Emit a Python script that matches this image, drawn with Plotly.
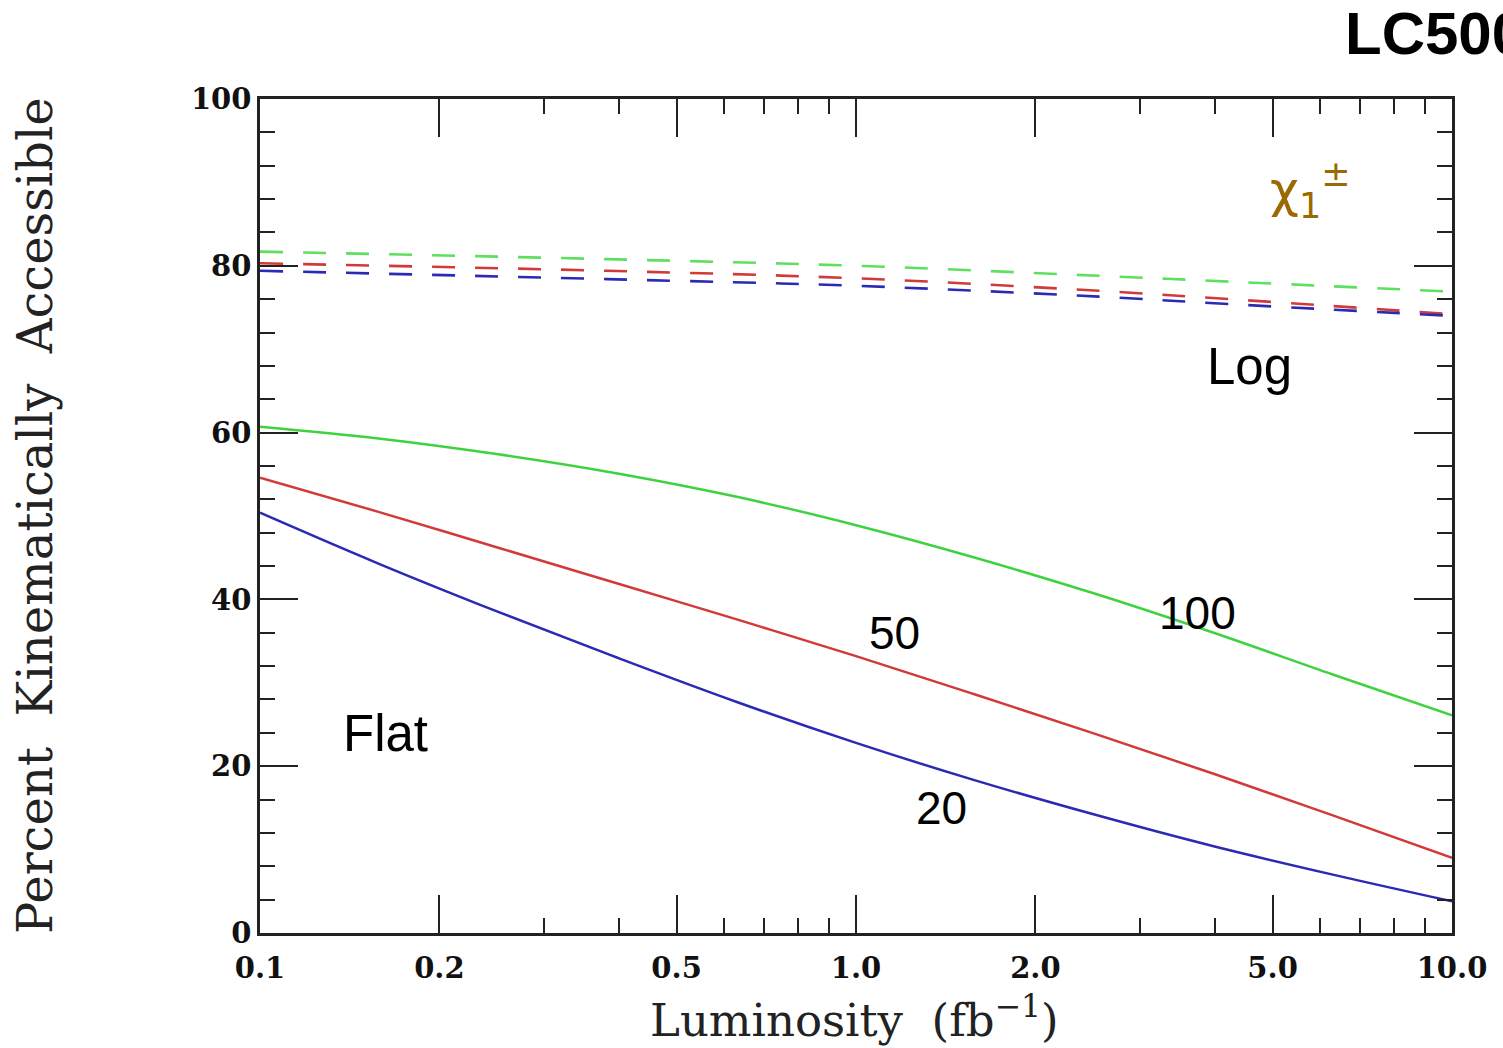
import plotly.graph_objects as go

# Solid curves (Flat)
lum_solid = [0.1, 0.158, 0.251, 0.398, 0.631, 1.0, 1.585, 2.512, 3.981, 6.31, 10.0]
flat_100 = [60.7, 59.3, 57.4, 55.1, 52.3, 48.9, 45.0, 40.7, 36.0, 31.0, 26.1]
flat_50 = [54.6, 50.5, 46.2, 41.9, 37.6, 33.2, 28.6, 23.9, 19.1, 14.1, 9.0]
flat_20 = [50.4, 44.3, 38.5, 33.0, 27.7, 22.8, 18.3, 14.2, 10.4, 7.0, 3.8]

# Dashed curves (Log)
lum_dash = [0.1, 0.382, 1.0, 2.56, 4.24, 10.0]
log_100 = [81.7, 80.8, 80.0, 78.8, 78.1, 76.9]
log_50 = [80.3, 79.4, 78.5, 77.0, 76.0, 74.2]
log_20 = [79.4, 78.4, 77.6, 76.3, 75.4, 74.0]

x_tickvals = [0.1, 0.2, 0.5, 1.0, 2.0, 5.0, 10.0]
x_ticktext = ["0.1", "0.2", "0.5", "1.0", "2.0", "5.0", "10.0"]
x_minor = [0.3, 0.4, 0.6, 0.7, 0.8, 0.9, 3, 4, 6, 7, 8, 9]
y_tickvals = [0, 20, 40, 60, 80, 100]

GREEN = "#3fd23f"
RED = "#d23a3a"
BLUE = "#2a2ab4"

fig = go.Figure()
for y, c in [(log_100, "#5ee05e"), (log_50, RED), (log_20, BLUE)]:
    fig.add_trace(go.Scatter(x=lum_dash, y=y, mode="lines", line=dict(color=c, width=2.6, dash="23px,20px", shape="spline"),
                             showlegend=False, hoverinfo="skip"))
for y, c in [(flat_100, GREEN), (flat_50, RED), (flat_20, BLUE)]:
    fig.add_trace(go.Scatter(x=lum_solid, y=y, mode="lines", line=dict(color=c, width=2.5, shape="spline"),
                             showlegend=False, hoverinfo="skip"))

tickfont = dict(family="DejaVu Serif", size=29, color="#111", weight="bold")
fig.update_xaxes(type="log", range=[-1, 1], tickvals=x_tickvals, ticktext=x_ticktext,
                 ticks="inside", ticklen=38, tickwidth=2, tickcolor="#222", ticklabelstandoff=7,
                 showline=True, linecolor="#222", linewidth=2.5, mirror="allticks",
                 showgrid=False, zeroline=False, tickfont=tickfont,
                 minor=dict(tickvals=x_minor, ticks="inside", ticklen=15, tickwidth=2, tickcolor="#222", showgrid=False))
fig.update_yaxes(range=[0, 100], tickvals=y_tickvals,
                 ticks="inside", ticklen=38, tickwidth=2, tickcolor="#222",
                 showline=True, linecolor="#222", linewidth=2.5, mirror="allticks",
                 showgrid=False, zeroline=False, tickfont=tickfont,
                 minor=dict(dtick=4, ticks="inside", ticklen=15, tickwidth=2, tickcolor="#222", showgrid=False))

sans = "Liberation Sans"
ann = [
    dict(x=0.499, y=-0.101, text="Luminosity  (fb<sup>−1</sup>)", font=dict(family="DejaVu Serif", size=45, color="#222")),
    dict(x=-0.189, y=0.501, text="Percent  Kinematically  Accessible", textangle=-90,
         font=dict(family="DejaVu Serif", size=48, color="#222")),
    dict(x=0.9086, y=1.078, text="<b>LC500</b>", xanchor="left", font=dict(family=sans, size=60, color="black")),
    dict(x=0.8456, y=0.891, text="χ<sub>1</sub><sup>±</sup>", xanchor="left", font=dict(family="DejaVu Sans", size=50, color="#9a6a00")),
    dict(x=0.8297, y=0.6787, text="Log", font=dict(family=sans, size=51, color="black")),
    dict(x=0.1057, y=0.2398, text="Flat", font=dict(family=sans, size=51, color="black")),
    dict(x=0.7869, y=0.3837, text="100", font=dict(family=sans, size=46, color="black")),
    dict(x=0.5319, y=0.3597, text="50", font=dict(family=sans, size=46, color="black")),
    dict(x=0.5721, y=0.1499, text="20", font=dict(family=sans, size=46, color="black")),
]
for a in ann:
    a.update(xref="paper", yref="paper", showarrow=False)
    a.setdefault("xanchor", "center")
    a.setdefault("yanchor", "middle")
fig.update_layout(annotations=ann, width=1503, height=1048,
                  margin=dict(l=260, r=51, t=99, b=115),
                  paper_bgcolor="white", plot_bgcolor="white")
fig.write_html("out.html")
